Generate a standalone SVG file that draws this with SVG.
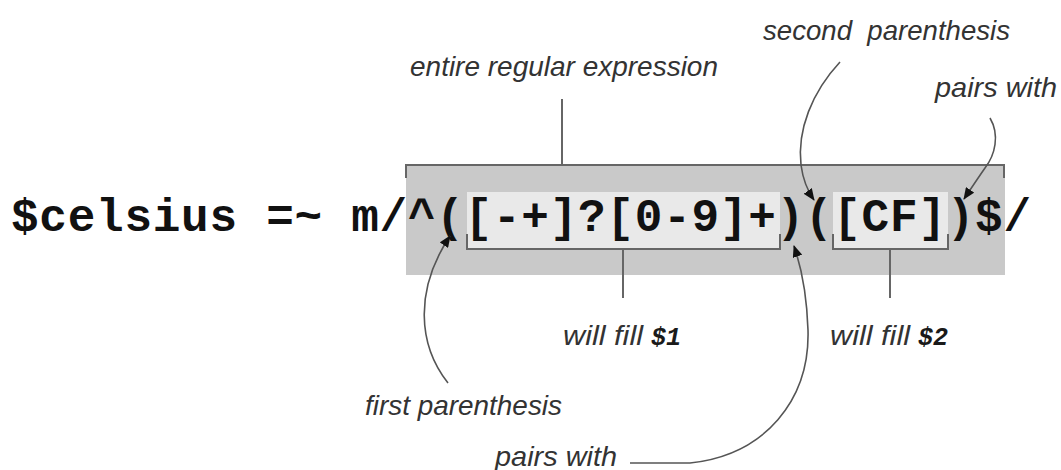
<svg xmlns="http://www.w3.org/2000/svg" width="1061" height="470" viewBox="0 0 1061 470">
<defs>
<style>
.lbl{font-family:"Liberation Sans",Arial,sans-serif;font-style:italic;font-size:28px;fill:#333}
.code{font-family:"Liberation Mono","Courier New",monospace;font-weight:bold;font-size:46px;fill:#111}
.var{font-family:"Liberation Mono","Courier New",monospace;font-weight:bold;font-style:italic;font-size:25px;fill:#1a1a1a}
.ln{fill:none;stroke:#666;stroke-width:2}
.cv{fill:none;stroke:#555;stroke-width:1.6}
</style>
<marker id="ah" viewBox="0 0 12 10" refX="11" refY="5" markerWidth="12" markerHeight="10" markerUnits="userSpaceOnUse" orient="auto">
<path d="M0,0 L12,5 L0,10 Z" fill="#111"/>
</marker>
</defs>
<rect width="1061" height="470" fill="#fff"/>
<g id="regex-box">
<rect x="406" y="165" width="599" height="110" fill="#c9c9c9"/>
<path class="ln" d="M406,178 L406,165 L1004,165 L1004,178"/>
</g>
<g id="group1">
<rect x="467" y="192" width="313" height="57" fill="#e9e9e9"/>
<path class="ln" d="M467,234 L467,249 L780,249 L780,234"/>
</g>
<g id="group2">
<rect x="833" y="192" width="115" height="57" fill="#e9e9e9"/>
<path class="ln" d="M833,234 L833,249 L948,249 L948,234"/>
</g>
<g id="code">
<text class="code" x="11" y="231" textLength="1020" lengthAdjust="spacing" xml:space="preserve">$celsius =~ m/^([-+]?[0-9]+)([CF])$/</text>
</g>
<g id="label-entire"><text class="lbl" x="410" y="76" textLength="308" lengthAdjust="spacingAndGlyphs">entire regular expression</text></g>
<g id="label-second"><text class="lbl" x="763" y="40" textLength="247" lengthAdjust="spacingAndGlyphs" xml:space="preserve">second  parenthesis</text></g>
<g id="label-pairs-top"><text class="lbl" x="935" y="97" textLength="122" lengthAdjust="spacingAndGlyphs">pairs with</text></g>
<g id="label-fill1"><text class="lbl" x="563" y="345" textLength="80" lengthAdjust="spacingAndGlyphs">will fill</text><text class="var" x="651" y="345">$1</text></g>
<g id="label-fill2"><text class="lbl" x="830" y="345" textLength="80" lengthAdjust="spacingAndGlyphs">will fill</text><text class="var" x="918" y="345">$2</text></g>
<g id="label-first"><text class="lbl" x="365" y="415" textLength="197" lengthAdjust="spacingAndGlyphs">first parenthesis</text></g>
<g id="label-pairs-bottom"><text class="lbl" x="495" y="466" textLength="122" lengthAdjust="spacingAndGlyphs">pairs with</text></g>
<g id="connectors">
<line class="ln" x1="562" y1="99" x2="562" y2="165"/>
<line class="ln" x1="623" y1="249" x2="623" y2="298"/>
<line class="ln" x1="890" y1="249" x2="890" y2="298"/>
<path class="cv" d="M840,62 C812,92 797,130 801,165 C803,180 807,190 814,200" marker-end="url(#ah)"/>
<path class="cv" d="M990,118 C1000,135 995,155 985,168 C978,178 972,187 964,199" marker-end="url(#ah)"/>
<path class="cv" d="M448,383 C418,345 414,290 450,236" marker-end="url(#ah)"/>
<path class="cv" d="M630,463 L690,463 C765,455 810,400 808,330 C807,300 803,272 794,246" marker-end="url(#ah)"/>
</g>
</svg>
